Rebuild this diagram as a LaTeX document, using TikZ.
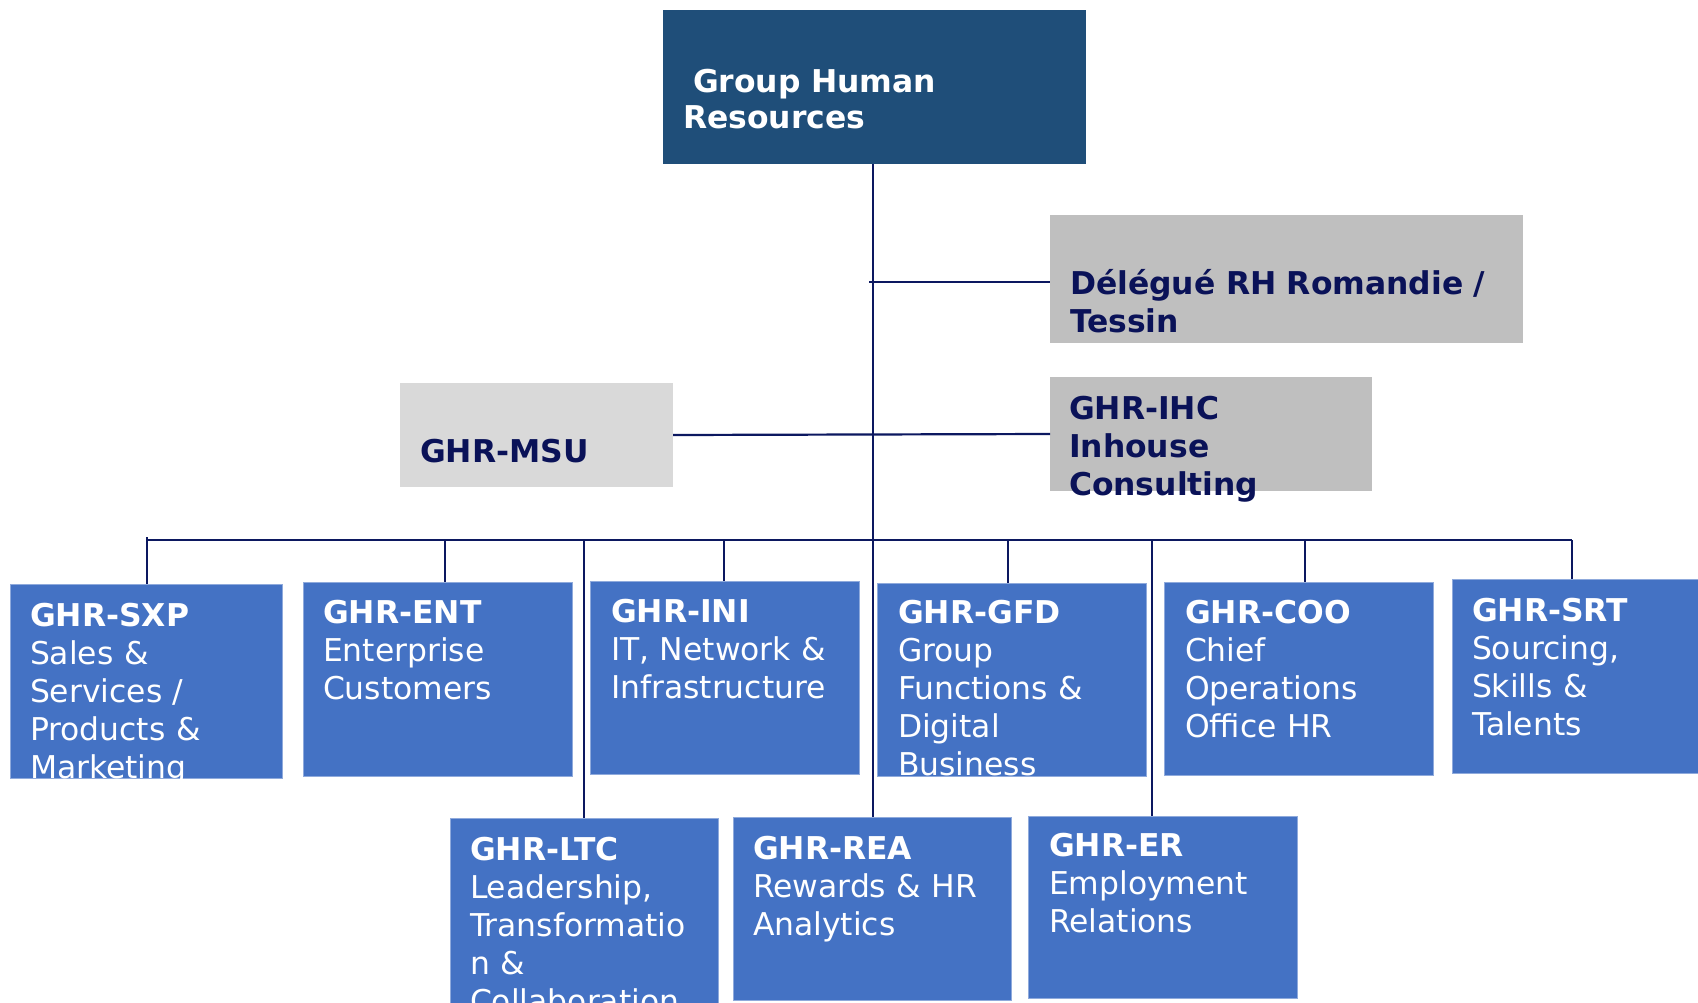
\documentclass[tikz,border=0pt]{standalone}
\usepackage{fontspec}
\setmainfont{DejaVu Sans}
\definecolor{topblue}{HTML}{1F4E79}
\definecolor{boxblue}{HTML}{4472C4}
\definecolor{boxedge}{HTML}{8FAADC}
\definecolor{greyA}{HTML}{BFBFBF}
\definecolor{greyB}{HTML}{D9D9D9}
\definecolor{navytxt}{HTML}{0A1258}
\definecolor{navyline}{HTML}{0C1860}
\begin{document}
\begin{tikzpicture}[x=1pt,y=-1pt,
  boxbase/.style={anchor=north west, inner sep=0pt, outer sep=0pt},
  bluebox/.style={boxbase, fill=boxblue, draw=boxedge, line width=1pt},
  greybox/.style={boxbase, fill=greyA},
  lightbox/.style={boxbase, fill=greyB},
  topbox/.style={boxbase, fill=topblue},
  txt/.style={anchor=base west, inner sep=0pt, outer sep=0pt, text width=480pt, align=left,
    font=\fontsize{31.4}{38}\selectfont},
  whitetxt/.style={txt, text=white},
  navytext/.style={txt, text=navytxt, font=\fontsize{31.4}{38}\selectfont\bfseries},
  conn/.style={draw=navyline, line width=2.2pt}
]
\useasboundingbox (0,0) rectangle (1698,1002);
\clip (0,0) rectangle (1698,1002);

% boxes
\node[topbox, minimum width=423pt, minimum height=154pt] (top) at (663,10) {};
\node[greybox, minimum width=473pt, minimum height=128pt] (deleg) at (1050,215) {};
\node[greybox, minimum width=322pt, minimum height=114pt] (ihc) at (1050,377) {};
\node[lightbox, minimum width=273pt, minimum height=104pt] (msu) at (400,383) {};

\node[bluebox, minimum width=272pt, minimum height=194pt] (sxp) at (10,584) {};
\node[bluebox, minimum width=269pt, minimum height=194pt] (ent) at (303,582) {};
\node[bluebox, minimum width=269pt, minimum height=193pt] (ini) at (590,581) {};
\node[bluebox, minimum width=269pt, minimum height=193pt] (gfd) at (877,583) {};
\node[bluebox, minimum width=269pt, minimum height=193pt] (coo) at (1164,582) {};
\node[bluebox, minimum width=269pt, minimum height=194pt] (srt) at (1452,579) {};
\node[bluebox, minimum width=268pt, minimum height=200pt] (ltc) at (450,818) {};
\node[bluebox, minimum width=278pt, minimum height=183pt] (rea) at (733,817) {};
\node[bluebox, minimum width=269pt, minimum height=182pt] (er) at (1028,816) {};

% connectors
\coordinate (busL) at (147,540);
\coordinate (busR) at (1572,540);
\coordinate (bENT) at (445,540);
\coordinate (bLTC) at (584,540);
\coordinate (bINI) at (724,540);
\coordinate (bGFD) at (1008,540);
\coordinate (bER) at (1152,540);
\coordinate (bCOO) at (1305,540);
\coordinate (trunkTop) at (873,164);
\coordinate (delegL) at (869,282);

\draw[conn] (trunkTop) -- (trunkTop |- rea.north);
\draw[conn] (delegL) -- ([yshift=-3pt]deleg.west);
\draw[conn] (msu.east) -- (ihc.west);
\draw[conn] (busL) -- (busR);
\draw[conn] ([yshift=3pt]busL) -- (busL |- sxp.north);
\draw[conn] (bENT) -- (bENT |- ent.north);
\draw[conn] (bLTC) -- (bLTC |- ltc.north);
\draw[conn] (bINI) -- (bINI |- ini.north);
\draw[conn] (bGFD) -- (bGFD |- gfd.north);
\draw[conn] (bER) -- (bER |- er.north);
\draw[conn] (bCOO) -- (bCOO |- coo.north);
\draw[conn] (busR) -- (busR |- srt.north);

% texts of top and grey boxes
\node[txt, text=white, font=\fontsize{31.4}{36}\selectfont\bfseries] (topt) at (683,92)
  {\hspace*{10pt}Group Human\\Resources};
\node[navytext] (delegt) at (1070,294) {Délégué RH Romandie /\\Tessin};
\node[navytext] (ihct) at (1069,419) {GHR-IHC\\Inhouse\\Consulting};
\node[navytext] (msut) at (420,462) {GHR-MSU};

% texts of blue boxes (clipped to their box)
\begin{scope}\clip (sxp.north west) rectangle (sxp.south east);
\node[whitetxt] (sxpt) at (30,626) {\textbf{GHR-SXP}\\Sales \&\\Services /\\Products \&\\Marketing};
\end{scope}
\begin{scope}\clip (ent.north west) rectangle (ent.south east);
\node[whitetxt] (entt) at (323,623) {\textbf{GHR-ENT}\\Enterprise\\Customers};
\end{scope}
\begin{scope}\clip (ini.north west) rectangle (ini.south east);
\node[whitetxt] (init) at (611,622) {\textbf{GHR-INI}\\IT, Network \&\\Infrastructure};
\end{scope}
\begin{scope}\clip (gfd.north west) rectangle (gfd.south east);
\node[whitetxt] (gfdt) at (898,623) {\textbf{GHR-GFD}\\Group\\Functions \&\\Digital\\Business};
\end{scope}
\begin{scope}\clip (coo.north west) rectangle (coo.south east);
\node[whitetxt] (coot) at (1185,623) {\textbf{GHR-COO}\\Chief\\Operations\\Office HR};
\end{scope}
\begin{scope}\clip (srt.north west) rectangle (srt.south east);
\node[whitetxt] (srtt) at (1472,621) {\textbf{GHR-SRT}\\Sourcing,\\Skills \&\\Talents};
\end{scope}
\begin{scope}\clip (ltc.north west) rectangle (ltc.south east);
\node[whitetxt] (ltct) at (470,860) {\textbf{GHR-LTC}\\Leadership,\\Transformatio\\n \&\\Collaboration};
\end{scope}
\begin{scope}\clip (rea.north west) rectangle (rea.south east);
\node[whitetxt] (reat) at (753,859) {\textbf{GHR-REA}\\Rewards \& HR\\Analytics};
\end{scope}
\begin{scope}\clip (er.north west) rectangle (er.south east);
\node[whitetxt] (ert) at (1049,856) {\textbf{GHR-ER}\\Employment\\Relations};
\end{scope}
\end{tikzpicture}
\end{document}
